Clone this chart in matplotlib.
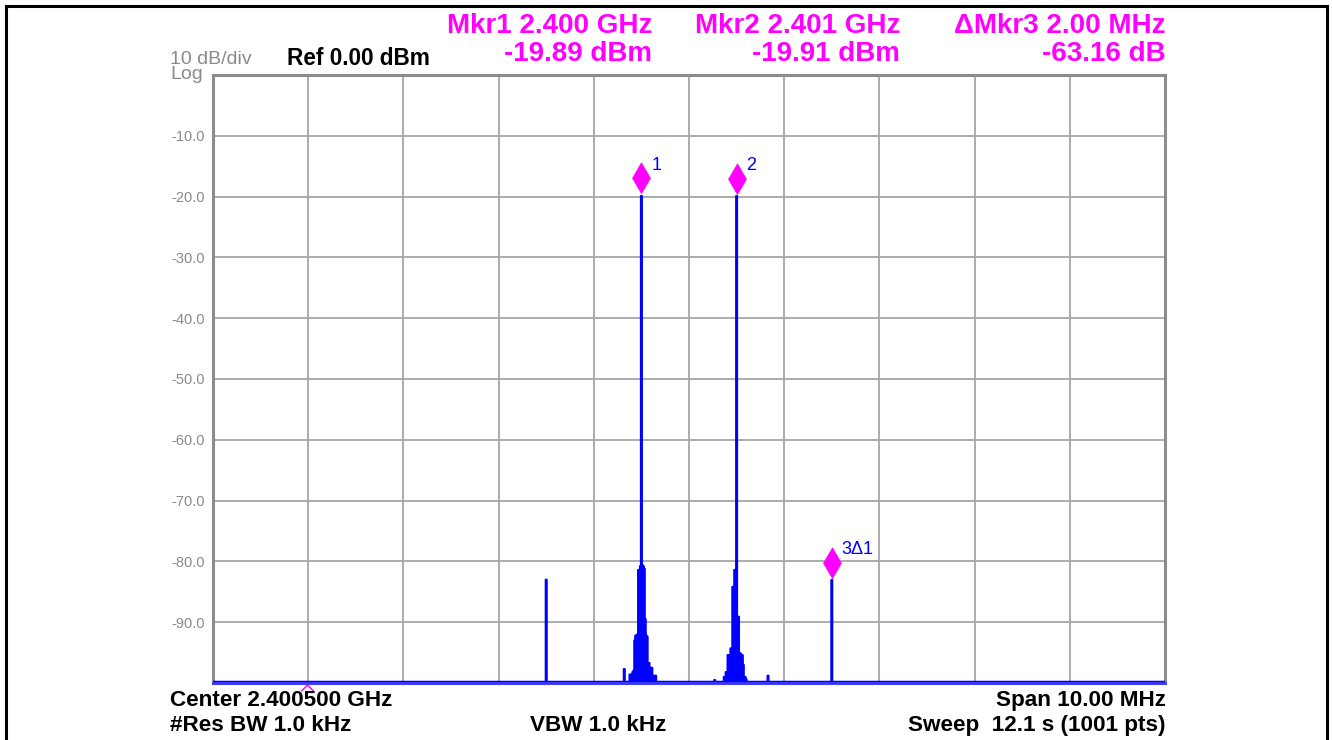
import numpy as np
import matplotlib
matplotlib.use("Agg")
import matplotlib.pyplot as plt
from matplotlib.path import Path
from matplotlib.lines import Line2D

plt.rcParams['font.family'] = ['Liberation Sans', 'DejaVu Sans']

# ---------------- data ----------------
start_ghz = 2.3955
stop_ghz = 2.4055
n_points = 1001
floor_dbm = -99.8

# marker / carrier points (trace index, level dBm)
peak1_index, peak1_level = 450, -19.89
peak2_index, peak2_level = 550, -19.91
spur_index, spur_level = 350, -83.0
mkr3_index, mkr3_level = 650, -83.05

# skirt around peak 1 (offset in trace points, level dBm)
skirt1_offsets = [-18, -12, -11, -10, -9, -8, -7, -6, -5, -4, -3, -2, -1,
                  1, 2, 3, 4, 5, 6, 7, 8, 10, 11, 12, 13, 14, 15]
skirt1_levels = [-97.7, -98.6, -98.6, -98.6, -98.2, -98.0, -93.0, -92.2, -92.2,
                 -92.0, -81.4, -81.4, -80.8, -80.6, -80.8, -81.2, -89.5, -92.2,
                 -92.4, -96.7, -96.7, -97.5, -97.5, -98.8, -98.8, -98.8, -98.8]

# skirt around peak 2
skirt2_offsets = [-23, -13, -12, -11, -10, -9, -8, -7, -6, -5, -4, -3, -2, -1,
                  1, 2, 3, 4, 5, 6, 7, 8, 9, 10, 33]
skirt2_levels = [-99.5, -99.0, -99.0, -98.2, -98.2, -95.4, -95.4, -95.4, -94.3,
                 -94.3, -84.2, -84.2, -81.4, -81.4, -89.1, -89.1, -95.1, -95.1,
                 -95.4, -95.4, -97.0, -99.0, -99.0, -99.4, -98.8]

y_ticks = [-10, -20, -30, -40, -50, -60, -70, -80, -90]
y_tick_labels = ['-10.0', '-20.0', '-30.0', '-40.0', '-50.0', '-60.0',
                 '-70.0', '-80.0', '-90.0']

marker_labels = ['1', '2', '3\u03941']

# ---------------- build trace ----------------
freq = np.linspace(start_ghz, stop_ghz, n_points)
trace = np.full(n_points, floor_dbm)
for o, l in zip(skirt1_offsets, skirt1_levels):
    trace[peak1_index + o] = l
for o, l in zip(skirt2_offsets, skirt2_levels):
    trace[peak2_index + o] = l
trace[peak1_index] = peak1_level
trace[peak2_index] = peak2_level
trace[spur_index] = spur_level
trace[mkr3_index] = mkr3_level

# ---------------- figure ----------------
W, H = 1333, 740
fig = plt.figure(figsize=(W / 100, H / 100), dpi=100)
fig.patch.set_facecolor('white')

L, R, T, B = 213, 1165, 75, 683
ax = fig.add_axes([L / W, 1 - B / H, (R - L) / W, (B - T) / H])
ax.set_xlim(start_ghz, stop_ghz)
ax.set_ylim(-100, 0)

MAG = '#FF00FF'
BLUE = '#0000FF'
GRAY = '#8a8a8a'

ax.set_xticks(np.linspace(start_ghz, stop_ghz, 11))
ax.set_xticklabels([])
ax.set_yticks(y_ticks)
ax.set_yticklabels(y_tick_labels, fontsize=10.5, color=GRAY)
ax.tick_params(length=0, pad=5.5)
ax.grid(True, color='#a6a6a6', lw=1.3)
ax.set_axisbelow(True)
for s in ax.spines.values():
    s.set_color('#8c8c8c')
    s.set_linewidth(2.2)

ax.fill_between(freq, trace, -100, step='mid', color=BLUE, lw=0, zorder=3)
ax.plot(freq, trace, drawstyle='steps-mid', color=BLUE, lw=1.5, zorder=4)
ax.axhline(-100, color='#3a3aff', lw=2.0, zorder=5, clip_on=False)

# marker diamonds (bottom vertex sits on the point)
diamond = Path([(0, 0), (0.29, 0.5), (0, 1), (-0.29, 0.5), (0, 0)],
               [Path.MOVETO, Path.LINETO, Path.LINETO, Path.LINETO, Path.CLOSEPOLY])
mk_idx = [peak1_index, peak2_index, mkr3_index]
mk_lvl = [peak1_level, peak2_level, mkr3_level]
for i, lv, lab in zip(mk_idx, mk_lvl, marker_labels):
    ax.plot([freq[i]], [lv + 0.4], marker=diamond, ms=44, color=MAG, mew=0.6,
            mec=MAG, zorder=6, clip_on=False)
    ax.annotate(lab, xy=(freq[i], lv), xytext=(10, 26), textcoords='offset pixels',
                color=BLUE, fontsize=13, ha='left', va='baseline', zorder=7)

# small caret at bottom
caret = Path([(-1, -0.6), (0, 0.4), (1, -0.6)], [Path.MOVETO, Path.LINETO, Path.LINETO])
ax.plot([start_ghz + 0.000987], [-100.6], marker=caret, ms=9, mfc='none',
        mec=MAG, mew=1.0, clip_on=False, zorder=8)


def ftext(x, y, s, **kw):
    fig.text(x / W, 1 - y / H, s, va='baseline', **kw)


ftext(170, 64, '10 dB/div', fontsize=14, color=GRAY)
ftext(170, 79, 'Log', fontsize=14, color=GRAY)
ftext(287, 65, 'Ref 0.00 dBm', fontsize=16.3, fontweight='bold', color='black')

HF = 20
ftext(652, 33, 'Mkr1 2.400 GHz', fontsize=HF, fontweight='bold', color=MAG, ha='right')
ftext(652, 61, '-19.89 dBm', fontsize=HF, fontweight='bold', color=MAG, ha='right')
ftext(900, 33, 'Mkr2 2.401 GHz', fontsize=HF, fontweight='bold', color=MAG, ha='right')
ftext(900, 61, '-19.91 dBm', fontsize=HF, fontweight='bold', color=MAG, ha='right')
ftext(1166, 33, '\u0394Mkr3 2.00 MHz', fontsize=HF, fontweight='bold', color=MAG, ha='right')
ftext(1166, 61, '-63.16 dB', fontsize=HF, fontweight='bold', color=MAG, ha='right')

BF = 16.2
ftext(170, 706, 'Center 2.400500 GHz', fontsize=BF, fontweight='bold', color='black')
ftext(170, 731, '#Res BW 1.0 kHz', fontsize=BF, fontweight='bold', color='black')
ftext(530, 731, 'VBW 1.0 kHz', fontsize=BF, fontweight='bold', color='black')
ftext(1166, 706, 'Span 10.00 MHz', fontsize=BF, fontweight='bold', color='black', ha='right')
ftext(1166, 731, 'Sweep  12.1 s (1001 pts)', fontsize=BF, fontweight='bold',
      color='black', ha='right')

# outer black border (top, left, right)
bx0, bx1, by0 = 6 / W, 1326.5 / W, 1 - 6 / H
fig.add_artist(Line2D([bx0, bx1], [by0, by0], color='black', lw=2.2))
fig.add_artist(Line2D([bx0, bx0], [by0, 0], color='black', lw=2.2))
fig.add_artist(Line2D([bx1, bx1], [by0, 0], color='black', lw=2.2))

fig.savefig('out.png', dpi=100)
